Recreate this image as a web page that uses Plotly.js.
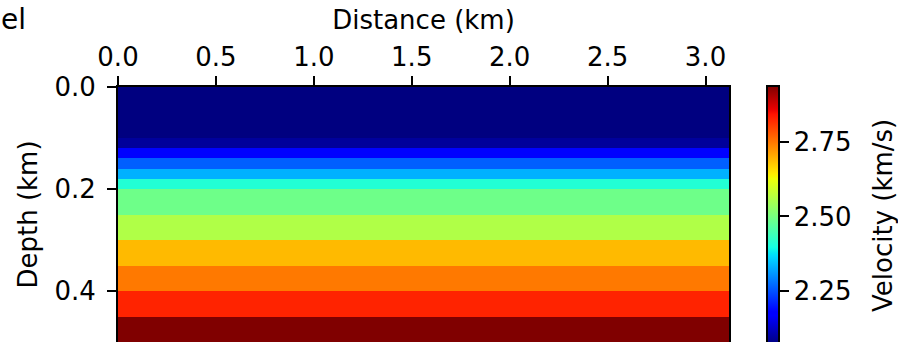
<!DOCTYPE html>
<html>
<head>
<meta charset="utf-8">
<script src="https://cdn.plot.ly/plotly-3.0.1.min.js"></script>
<style>html,body{margin:0;padding:0;background:#fff;}#chart{width:898px;height:342px;}</style>
</head>
<body>
<div id="chart"></div>
<script>
// Layer boundaries in depth (km) and velocity (km/s) of each layer
const depthEdges = [0, 0.1, 0.12, 0.14, 0.16, 0.18, 0.2, 0.25, 0.3, 0.35, 0.4, 0.45, 0.5];
const velocities = [2.07, 2.09, 2.18, 2.26, 2.33, 2.41, 2.49, 2.56, 2.69, 2.75, 2.83, 2.94];
const distanceEdges = [0, 3.12];
const xTickVals = [0, 0.5, 1.0, 1.5, 2.0, 2.5, 3.0];
const yTickVals = [0, 0.2, 0.4];
const cbTickVals = [2.25, 2.5, 2.75];

// matplotlib "jet" colormap
const jetPos = [0, 0.11, 0.125, 0.34, 0.35, 0.375, 0.64, 0.65, 0.66, 0.89, 0.91, 1];
const jetCol = ['rgb(0,0,128)','rgb(0,0,255)','rgb(0,0,255)','rgb(0,219,255)','rgb(0,230,247)',
  'rgb(21,255,226)','rgb(239,255,8)','rgb(247,246,0)','rgb(255,236,0)','rgb(255,19,0)',
  'rgb(232,0,0)','rgb(128,0,0)'];
const jet = jetPos.map((p, i) => [p, jetCol[i]]);

const z = velocities.map(v => [v]);
const FONT = 'DejaVu Sans, sans-serif';
const FS = 26;

const trace = {
  type: 'heatmap',
  x: distanceEdges,
  y: depthEdges,
  z: z,
  colorscale: jet,
  zsmooth: false,
  hoverinfo: 'skip',
  colorbar: {
    thickness: 12,
    thicknessmode: 'pixels',
    len: 258,
    lenmode: 'pixels',
    x: 1.062,
    xanchor: 'left',
    xpad: 0,
    y: 1.004,
    yanchor: 'top',
    ypad: 0,
    outlinewidth: 2,
    outlinecolor: '#000',
    borderwidth: 0,
    ticks: 'outside',
    ticklen: 9,
    tickwidth: 2,
    tickcolor: '#000',
    ticklabelstandoff: 5,
    tickvals: cbTickVals,
    tickformat: '.2f',
    tickfont: {family: FONT, size: FS, color: '#000'}
  }
};

const layout = {
  width: 898,
  height: 342,
  margin: {l: 118, r: 169, t: 87, b: 0, pad: 0},
  paper_bgcolor: '#fff',
  plot_bgcolor: '#fff',
  font: {family: FONT, size: FS, color: '#000'},
  xaxis: {
    side: 'top',
    range: [0, 3.12],
    tickvals: xTickVals,
    tickformat: '.1f',
    ticks: 'outside',
    ticklen: 9,
    tickwidth: 2,
    tickcolor: '#000',
    showline: true,
    mirror: true,
    linewidth: 2,
    linecolor: '#000',
    showgrid: false,
    zeroline: false,
    title: {text: 'Distance (km)', font: {family: FONT, size: FS}, standoff: 4}
  },
  yaxis: {
    range: [0.5, 0],
    tickvals: yTickVals,
    tickformat: '.1f',
    ticks: 'outside',
    ticklen: 9,
    tickwidth: 2,
    tickcolor: '#000',
    ticklabelstandoff: 6,
    showline: true,
    mirror: true,
    linewidth: 2,
    linecolor: '#000',
    showgrid: false,
    zeroline: false,
    title: {text: 'Depth (km)', font: {family: FONT, size: FS}, standoff: 9}
  },
  annotations: [{
    text: 'el',
    xref: 'paper', yref: 'paper',
    x: -0.194, y: 1.338,
    xanchor: 'left', yanchor: 'top',
    showarrow: false,
    font: {family: FONT, size: 28, color: '#000'}
  }, {
    text: 'Velocity (km/s)',
    xref: 'paper', yref: 'paper',
    x: 1.252, y: 0.498,
    xanchor: 'center', yanchor: 'middle',
    textangle: -90,
    showarrow: false,
    font: {family: FONT, size: FS, color: '#000'}
  }]
};

Plotly.newPlot('chart', [trace], layout, {displayModeBar: false, staticPlot: true});
</script>
</body>
</html>
